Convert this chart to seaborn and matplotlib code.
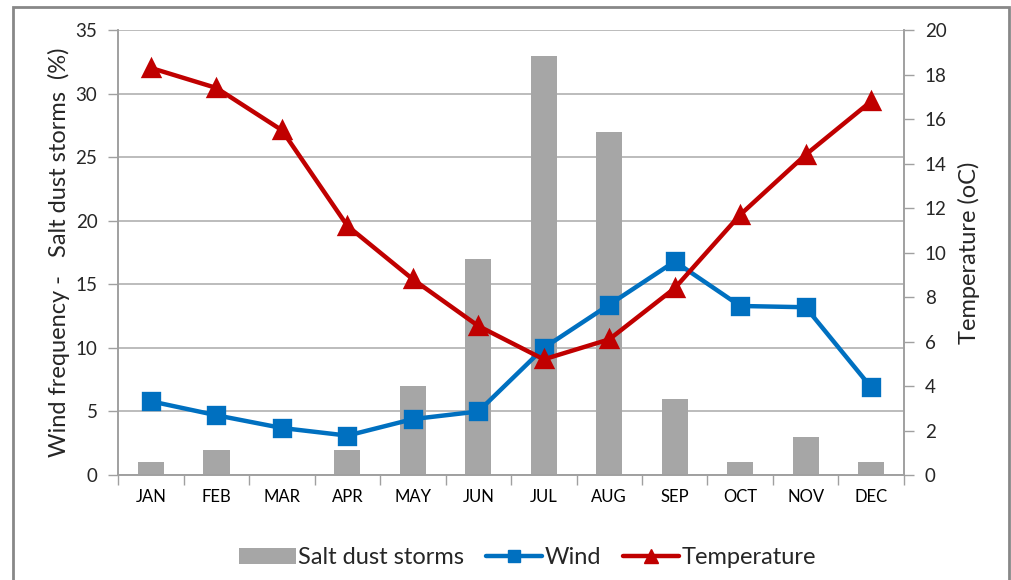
import numpy as np
import pandas as pd
import matplotlib
matplotlib.use("Agg")
import matplotlib.pyplot as plt
from matplotlib.patches import Rectangle, Patch
from matplotlib.lines import Line2D
import seaborn as sns

# ---------------- data ----------------
months = ['JAN', 'FEB', 'MAR', 'APR', 'MAY', 'JUN',
          'JUL', 'AUG', 'SEP', 'OCT', 'NOV', 'DEC']
salt_dust = [1, 2, 0, 2, 7, 17, 33, 27, 6, 1, 3, 1]
wind = [5.8, 4.7, 3.7, 3.1, 4.4, 5.0, 10.0, 13.4, 16.8, 13.3, 13.2, 6.9]
temperature = [18.3, 17.4, 15.5, 11.2, 8.8, 6.7, 5.2, 6.1, 8.4, 11.7, 14.4, 16.8]

left_ticks = [0, 5, 10, 15, 20, 25, 30, 35]
right_ticks = [0, 2, 4, 6, 8, 10, 12, 14, 16, 18, 20]

bar_color = '#A6A6A6'
wind_color = '#0070C0'
temp_color = '#C00000'
axis_gray = '#A0A0A0'

df = pd.DataFrame({'month': months, 'salt': salt_dust,
                   'wind': wind, 'temp': temperature})

# ---------------- plot setup ----------------
sns.set_theme(style='white')
plt.rcParams['font.family'] = ['Lato', 'DejaVu Sans']

fig = plt.figure(figsize=(10.11, 5.8), dpi=100)
ax = fig.add_axes([0.117, 0.181, 0.777, 0.767])

# bars
sns.barplot(data=df, x='month', y='salt', color=bar_color, width=0.4,
            saturation=1, linewidth=0, ax=ax, zorder=2)

# wind line on left axis
sns.pointplot(data=df, x='month', y='wind', color=wind_color, markers='s',
              markersize=11, linewidth=3.2, ax=ax, zorder=4)

# temperature on right axis
ax2 = ax.twinx()
sns.pointplot(data=df, x='month', y='temp', color=temp_color, markers='^',
              markersize=12, linewidth=3.2, ax=ax2, zorder=4)

# ---------------- axes ----------------
ax.set_xlim(-0.5, len(months) - 0.5)
ax.set_ylim(0, 35)
ax.set_yticks(left_ticks)
ax2.set_ylim(0, 20)
ax2.set_yticks(right_ticks)

ax.yaxis.grid(True, color='#B0B0B0', linewidth=1.2, zorder=0)
ax.set_axisbelow(True)

ax.set_xticks(range(len(months)))
ax.set_xticklabels(months)
ax.set_xticks(np.arange(-0.5, len(months)), minor=True)
ax.tick_params(axis='x', which='major', length=0, pad=10, labelsize=12,
               colors='#000000')
ax.tick_params(axis='x', which='minor', length=7, width=1, color=axis_gray,
               direction='out', bottom=True)
ax.tick_params(axis='y', length=7, width=1, color=axis_gray, direction='out',
               labelsize=13.5, pad=8, left=True)
ax2.tick_params(axis='y', length=7, width=1, color=axis_gray, direction='out',
                labelsize=13.5, pad=8, right=True)

ax.set_xlabel('')
ax.set_ylabel('Wind frequency -   Salt dust storms  (%)', fontsize=17, labelpad=4)
ax2.set_ylabel('Temperature (oC)', fontsize=17, labelpad=8)

for a in (ax, ax2):
    a.spines['top'].set_visible(False)
    for side in ('left', 'right', 'bottom'):
        a.spines[side].set_color(axis_gray)
        a.spines[side].set_linewidth(1.2)

# ---------------- legend ----------------
handles = [
    Patch(facecolor=bar_color, edgecolor='none'),
    Line2D([], [], color=wind_color, marker='s', markersize=9, linewidth=3.2),
    Line2D([], [], color=temp_color, marker='^', markersize=10, linewidth=3.2),
]
labels = ['Salt dust storms', 'Wind', 'Temperature']
fig.legend(handles, labels, loc='center', bbox_to_anchor=(0.522, 0.038), ncol=3,
           frameon=False, fontsize=17, handlelength=2.4, handletextpad=0.1,
           columnspacing=0.9)

# outer frame
fig.patches.append(Rectangle((0.013, -0.05), 0.985, 1.038, transform=fig.transFigure,
                             fill=False, edgecolor='#888888', linewidth=2))

fig.savefig('out.png', dpi=100)
